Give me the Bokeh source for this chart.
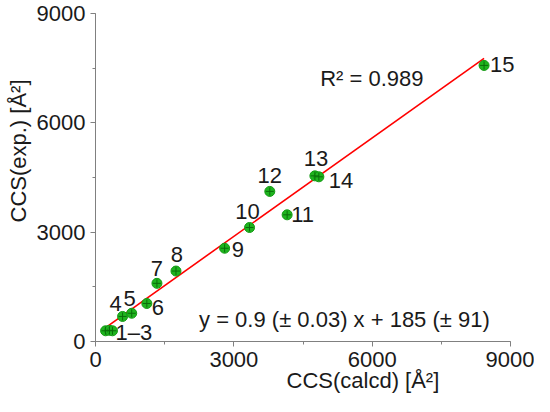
from bokeh.plotting import figure
from bokeh.models import Range1d, SingleIntervalTicker, Label, ColumnDataSource, Title
from bokeh.core.properties import value
from bokeh.embed import file_html
from bokeh.resources import INLINE

# ---- data ----
ccs_calcd = [219, 304, 368, 587, 785, 1113, 1332, 1745, 2800, 3340, 4155, 3779, 4757, 4843, 8425]
ccs_exp = [294, 307, 294, 687, 775, 1043, 1596, 1933, 2559, 3128, 3476, 4118, 4545, 4519, 7575]
point_labels = ["", "1\u20133", "", "4", "5", "6", "7", "8", "9", "10", "11", "12", "13", "14", "15"]
fit_slope = 0.9
fit_slope_err = 0.03
fit_intercept = 185
fit_intercept_err = 91
r_squared = 0.989
axis_ticks = [0, 3000, 6000, 9000]

# ---- styling / layout for labels (pixels) ----
label_align = ["left", "left", "left", "center", "center", "left", "center", "center",
               "left", "center", "left", "center", "center", "left", "left"]
label_dx = [0, 6, 0, -7, -2, 5, 0, 1, 7, -2, 4, 0, 1, 10, 6]
label_dy = [0, 2, 0, -13, -15, 4, -15, -17, 1, -16, 0, -16, -17, 4, -1]

FONT = "Liberation Sans"
FS = "22px"
TXT = "#1a1a1a"
AXC = "#808080"

W, H = 534, 396
LEFT, RIGHT, TOP, BOTTOM = 93, 4, 13, 55
PX_PER_UNIT = (510 - LEFT) / axis_ticks[-1]          # 9000 tick sits at canvas x=510
x_end = (W - RIGHT - LEFT) / PX_PER_UNIT              # room right of the axis end for labels

p = figure(width=W, height=H, output_backend="svg", toolbar_location=None,
           x_range=Range1d(axis_ticks[0], x_end),
           y_range=Range1d(axis_ticks[0], axis_ticks[-1]),
           min_border_left=LEFT, min_border_right=RIGHT, min_border_top=TOP, min_border_bottom=BOTTOM)
p.outline_line_color = None
p.grid.visible = False
p.background_fill_color = "white"
p.border_fill_color = "white"

for ax in (p.xaxis[0], p.yaxis[0]):
    ax.ticker = SingleIntervalTicker(interval=axis_ticks[1] - axis_ticks[0], num_minor_ticks=2)
    ax.bounds = (axis_ticks[0], axis_ticks[-1])
    ax.axis_line_color = AXC
    ax.major_tick_line_color = AXC
    ax.minor_tick_line_color = AXC
    ax.major_tick_out = 5
    ax.major_tick_in = 0
    ax.minor_tick_out = 3
    ax.minor_tick_in = 0
    ax.major_label_text_font = FONT
    ax.major_label_text_font_size = FS
    ax.major_label_text_color = TXT
    ax.major_label_standoff = 5

# axis titles, placed off-centre as in the reference
p.add_layout(Title(text="CCS(exp.) [\u00c5\u00b2]", align="left", offset=119,
                   standoff=6, text_font=FONT, text_font_size=FS, text_font_style="normal",
                   text_color=TXT), "left")
p.add_layout(Title(text="CCS(calcd) [\u00c5\u00b2]", align="left", offset=191,
                   standoff=-8, text_font=FONT, text_font_size=FS, text_font_style="normal",
                   text_color=TXT), "below")

# regression line from the fit equation
x_lo, x_hi = min(ccs_calcd), max(ccs_calcd)
p.line(x=[x_lo, x_hi], y=[fit_slope * x_lo + fit_intercept, fit_slope * x_hi + fit_intercept],
       line_color="#ff0000", line_width=1.6)

src = ColumnDataSource(dict(x=ccs_calcd, y=ccs_exp, t=point_labels, a=label_align,
                            dx=label_dx, dy=label_dy))
p.scatter("x", "y", source=src, size=10, fill_color="#1fb41f", line_color="#139a13", line_width=1)
p.scatter("x", "y", source=src, marker="cross", size=8, line_color="#0a6e0a", line_width=1)

p.text("x", "y", text="t", source=src, x_offset="dx", y_offset="dy", text_align="a",
       text_baseline="alphabetic", text_font=value(FONT), text_font_size=FS, text_color=TXT)

p.add_layout(Label(x=4871, y=7208, text=f"R\u00b2 = {r_squared}", text_font=FONT,
                   text_font_size=FS, text_color=TXT, text_baseline="alphabetic"))
p.add_layout(Label(x=2245, y=604,
                   text=f"y = {fit_slope} (\u00b1 {fit_slope_err}) x + {fit_intercept} (\u00b1 {fit_intercept_err})",
                   text_font=FONT, text_font_size=FS, text_color=TXT, text_baseline="alphabetic"))

open("out.html", "w").write(file_html(p, INLINE))
